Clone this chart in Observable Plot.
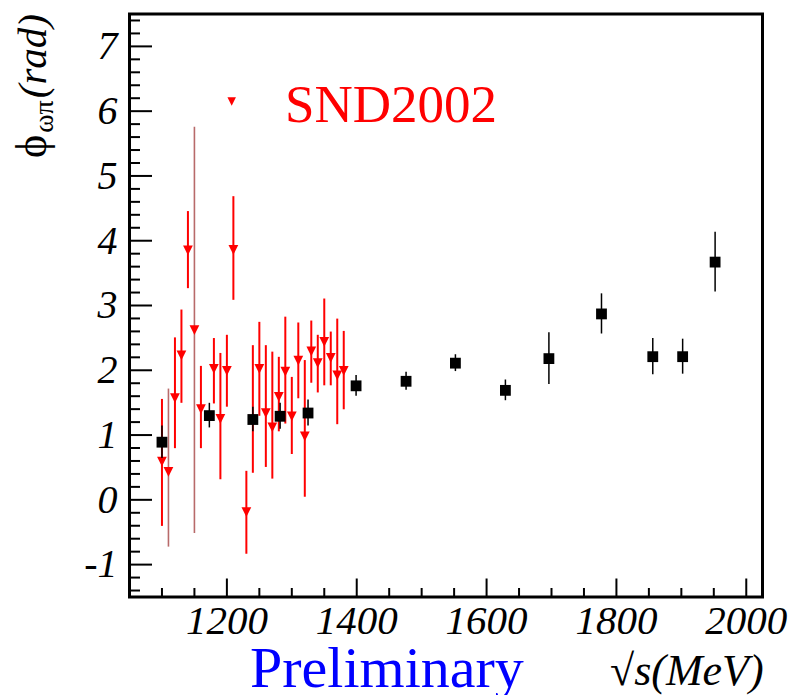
<!DOCTYPE html>
<html><head><meta charset="utf-8">
<script src="https://cdn.jsdelivr.net/npm/d3@7"></script>
<script src="https://cdn.jsdelivr.net/npm/@observablehq/plot@0.6"></script>
<style>
body{margin:0;background:#fff}
svg text, svg tspan { font-family: "Liberation Serif", "Times New Roman", Times, "DejaVu Serif", serif !important; }
</style>
</head><body><div id="chart"></div>
<script>
// SND2002 series (red down triangles): energy, phase, lower/upper error-bar ends
const sndE   = [1100, 1110, 1120, 1130, 1140, 1150, 1160, 1180, 1190, 1200, 1210, 1230, 1240, 1250, 1260, 1270, 1280, 1290, 1300, 1310, 1320, 1330, 1340, 1350, 1360, 1370, 1380];
const sndPhi = [0.59, 0.43, 1.57, 2.23, 3.85, 2.62, 1.40, 2.02, 1.25, 1.99, 3.86, -0.19, 1.24, 2.02, 1.34, 1.12, 1.59, 1.98, 1.29, 2.15, 0.98, 2.29, 2.11, 2.44, 2.19, 1.92, 1.99];
const sndLo  = [-0.41, -0.73, 0.79, 1.49, 3.26, -0.52, 0.79, 1.48, 0.31, 1.43, 3.08, -0.84, 0.41, 1.29, 0.50, 0.32, 1.05, 1.17, 0.70, 1.56, 0.04, 1.80, 1.65, 1.76, 1.76, 1.16, 1.39];
const sndHi  = [1.55, 1.71, 2.50, 2.93, 4.45, 5.75, 2.06, 2.49, 2.26, 2.54, 4.68, 0.44, 2.38, 2.74, 2.38, 2.28, 2.20, 2.82, 1.89, 2.73, 2.15, 2.76, 2.54, 3.10, 2.59, 2.79, 2.60];
// new measurement (black squares): energy, phase, symmetric error
const newE   = [1100, 1173, 1240, 1282, 1325, 1399, 1476, 1552, 1629, 1696, 1777, 1856, 1902, 1952];
const newPhi = [0.89, 1.30, 1.24, 1.29, 1.34, 1.76, 1.83, 2.11, 1.69, 2.18, 2.87, 2.21, 2.21, 3.67];
const newErr = [0.25, 0.19, 0.19, 0.20, 0.20, 0.16, 0.14, 0.13, 0.16, 0.40, 0.31, 0.28, 0.27, 0.46];
// axis ticks / labels
const xTickLabels = [1200, 1400, 1600, 1800, 2000];
const yTickLabels = [-1, 0, 1, 2, 3, 4, 5, 6, 7];
const legendLabel = "SND2002";
const watermark = "Preliminary";
const thinBarsE = [1110, 1150];

const snd = sndE.map((e, i) => ({E: e, phi: sndPhi[i], lo: sndLo[i], hi: sndHi[i]}));
const pts = newE.map((e, i) => ({E: e, phi: newPhi[i], lo: newPhi[i] - newErr[i], hi: newPhi[i] + newErr[i]}));

const W = 795, H = 695, mL = 129, mR = 33, mT = 13.5, mB = 98.5;
const pw = W - mL - mR, ph = H - mT - mB;
const xMinor = d3.range(1100, 2001, 50).filter(v => !xTickLabels.includes(v));
const yMinor = d3.range(-14, 75, 2).map(v => v / 10).filter(v => !Number.isInteger(v));
const serif = "Liberation Serif, Times New Roman, DejaVu Serif, serif";

const downTri = {draw(ctx, size) { const s = Math.sqrt(size); ctx.moveTo(-s/2, -s/2); ctx.lineTo(s/2, -s/2); ctx.lineTo(0, s/2); ctx.closePath(); }};

const plot = Plot.plot({
  width: W, height: H,
  marginLeft: mL, marginRight: mR, marginTop: mT, marginBottom: mB,
  x: {domain: [1050, 2025]},
  y: {domain: [-1.5, 7.5]},
  style: {background: "white", fontFamily: serif, color: "black"},
  marks: [
    Plot.tickY(yTickLabels, {y: d => d, insetRight: pw - 23, stroke: "black", strokeWidth: 2}),
    Plot.tickY(yMinor, {y: d => d, insetRight: pw - 11, stroke: "black", strokeWidth: 2}),
    Plot.tickX(xTickLabels, {x: d => d, insetTop: ph - 18, stroke: "black", strokeWidth: 2}),
    Plot.tickX(xMinor, {x: d => d, insetTop: ph - 8.5, stroke: "black", strokeWidth: 2}),
    Plot.axisY({ticks: yTickLabels, tickSize: 0, tickPadding: 12, tickFormat: d => String(d), fontSize: 40, fontStyle: "italic", fontFamily: serif, label: null}),
    Plot.axisX({ticks: xTickLabels, tickSize: 0, tickPadding: 8, tickFormat: d => String(d), fontSize: 41, fontStyle: "italic", fontFamily: serif, label: null}),
    Plot.frame({stroke: "black", strokeWidth: 3}),
    Plot.ruleX(snd.filter(d => !thinBarsE.includes(d.E)), {x: "E", y1: "lo", y2: "hi", stroke: "#ff0000", strokeWidth: 2}),
    Plot.ruleX(snd.filter(d => thinBarsE.includes(d.E)), {x: "E", y1: "lo", y2: "hi", stroke: "#b86a6a", strokeWidth: 1.6}),
    Plot.dot(snd, {x: "E", y: "phi", symbol: downTri, r: 5.5, fill: "#ff0000", stroke: "none"}),
    Plot.ruleX(pts, {x: "E", y1: "lo", y2: "hi", stroke: "black", strokeWidth: 1.5}),
    Plot.dot(pts, {x: "E", y: "phi", symbol: "square", r: 6.1, fill: "black", stroke: "none"})
  ]
});
document.getElementById("chart").appendChild(plot);

const svg = d3.select(plot);
// y axis title
const yl = svg.append("text")
  .attr("transform", "translate(46,158) rotate(-90)")
  .attr("text-anchor", "start").attr("fill", "black");
yl.append("tspan").attr("font-size", 44).text("ϕ");
yl.append("tspan").attr("font-size", 28).attr("dy", 7).attr("dx", 2).text("ωπ");
yl.append("tspan").attr("font-size", 41).attr("dy", -7).attr("dx", 2).attr("font-style", "italic").text("(rad)");

// legend
svg.append("path").attr("d", d3.symbol(downTri, 72)()).attr("transform", "translate(231.7,101.5)").attr("fill", "#ff0000");
svg.append("text").attr("x", 285).attr("y", 121.5).attr("text-anchor", "start").attr("font-size", 53).attr("fill", "#ff0000").text(legendLabel);

// watermark and x title
svg.append("text").attr("x", 250).attr("y", 687).attr("text-anchor", "start").attr("font-size", 58).attr("fill", "#0000ff").text(watermark);
const xl = svg.append("text").attr("x", 610).attr("y", 685).attr("text-anchor", "start").attr("font-size", 44).attr("fill", "black");
xl.append("tspan").text("√");
xl.append("tspan").attr("font-style", "italic").text("s(MeV)");
</script>
</body></html>
